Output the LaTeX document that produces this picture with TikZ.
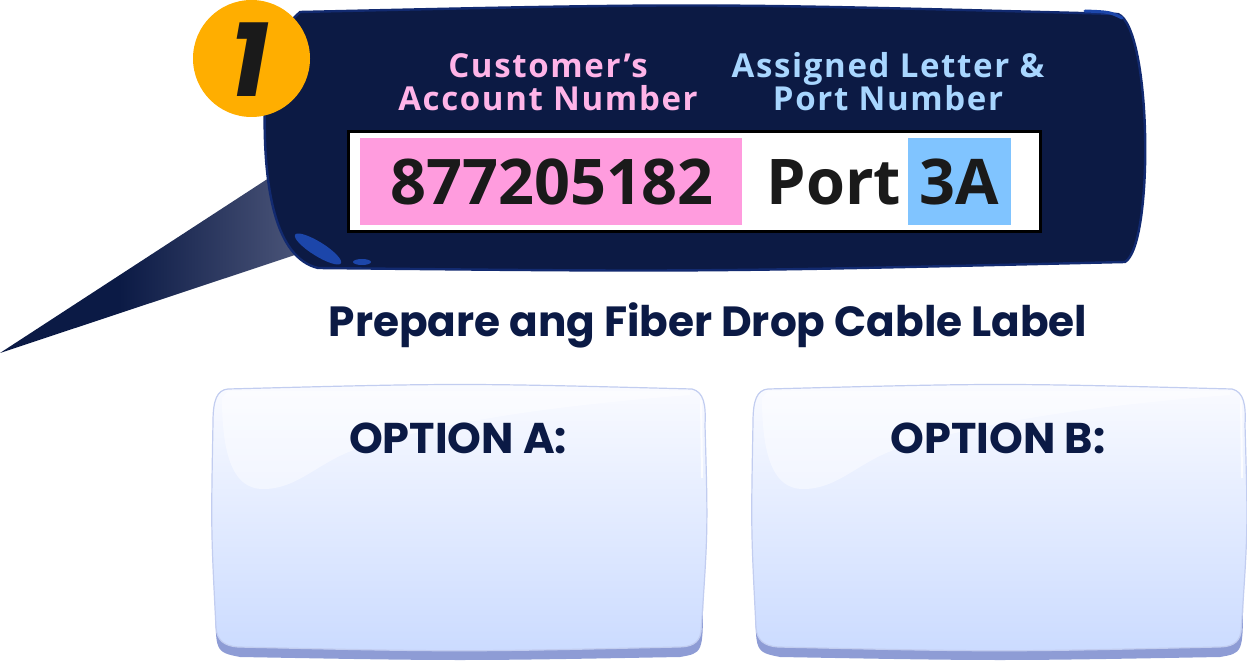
\documentclass[tikz,border=0pt]{standalone}
\usepackage{fontspec}
\setmainfont{Open Sans}
\newfontfamily\popfont{Poppins}
\newfontfamily\lblfont{Open Sans}[LetterSpace=5.0]
\definecolor{navy}{HTML}{0B1A45}
\definecolor{banner}{HTML}{0C1A44}
\definecolor{bannerrim}{HTML}{122A70}
\definecolor{hl}{HTML}{1C46AA}
\definecolor{beammid}{HTML}{4A5478}
\definecolor{beamlt}{HTML}{D0D3DC}
\definecolor{badge}{HTML}{FFAE00}
\definecolor{pinktxt}{HTML}{FFB4E8}
\definecolor{bluetxt}{HTML}{A8D6FF}
\definecolor{pinkfill}{HTML}{FF9CDE}
\definecolor{bluefill}{HTML}{80C4FF}
\definecolor{lblblack}{HTML}{1A1A1A}
\definecolor{lip}{HTML}{8E9CD5}
\definecolor{opttop}{HTML}{FAFBFF}
\definecolor{optbot}{HTML}{CBDBFF}
\definecolor{optedge}{HTML}{C2CDF0}
\pgfdeclarehorizontalshading{beam}{100bp}{color(0bp)=(navy); color(45bp)=(navy); color(75bp)=(beammid); color(100bp)=(beamlt)}
\tikzset{
  lbl/.style={inner sep=0pt, anchor=base, font=\lblfont\fontsize{16.5}{16.5}\selectfont\bfseries},
  num/.style={inner sep=0pt, anchor=base, text=lblblack, font=\fontsize{31.5}{31.5}\selectfont\bfseries},
  ttl/.style={inner sep=0pt, anchor=base, text=navy, font=\popfont\fontsize{21.1}{21.1}\selectfont\bfseries},
  opt/.style={inner sep=0pt, anchor=base, text=navy, font=\popfont\fontsize{21.5}{21.5}\selectfont\bfseries}
}
\newcommand\myoptbox[1]{%
\begin{scope}[shift={(#1,0)}]
  \fill[lip] (216,600) .. controls (215,652) .. (240,657) .. controls (460,661) .. (680,657) .. controls (703,653) .. (703,600) -- cycle;
  \shade[top color=opttop, bottom color=optbot, draw=optedge, line width=0.6pt]
    (228,389) .. controls (460,383) .. (692,389) .. controls (704,392) and (706,405) .. (705,425)
    .. controls (708,530) .. (701,632) .. controls (699,644) and (690,647) .. (678,647)
    .. controls (460,652) .. (238,647) .. controls (224,646) and (217,640) .. (216,628)
    .. controls (211,530) .. (213,422) .. controls (213,400) and (217,390) .. (228,389) -- cycle;
  \fill[white, opacity=0.45] (222,398) .. controls (222,470) and (240,490) .. (265,489)
    .. controls (300,488) and (320,460) .. (360,448) .. controls (420,430) and (500,410) .. (690,395) -- (690,391) -- (228,391) -- cycle;
  \draw[white, opacity=0.8, line width=1pt] (701,400) -- (702,478);
\end{scope}}
\begin{document}
\begin{tikzpicture}[x=0.5pt,y=-0.5pt]
\useasboundingbox (0,0) rectangle (1247,662);
% beam
\shade[shading=beam] (0,353) -- (272,176) -- (298,254) -- cycle;
% banner
\path[fill=banner, draw=bannerrim, line width=1.2pt]
  (300,12) .. controls (700,3) .. (1118,14) .. controls (1152,28) and (1154,245) .. (1125,262)
  .. controls (700,272) .. (318,268) .. controls (276,258) and (262,190) .. (265,95)
  .. controls (266,45) .. (300,12) -- cycle;
\fill[hl, rotate around={-32:(318,249)}] (318,249) ellipse [x radius=27, y radius=7];
\fill[hl] (362,262) ellipse [x radius=9, y radius=3];
\draw[hl, line width=1.5pt, line cap=round] (1085,11) .. controls (1110,12) .. (1122,18);
% badge
\node[circle, fill=badge, minimum size=58.5pt, inner sep=0pt] (badge) at (251.5,58.5) {};
\node[inner sep=0pt, text=lblblack, font=\popfont\fontsize{52}{52}\selectfont\bfseries\itshape] (one) at (249,60) {1};
% labels
\node[lbl, text=pinktxt] (c1) at (548,78) {Customer’s};
\node[lbl, text=pinktxt] (c2) at (548,111) {Account Number};
\node[lbl, text=bluetxt] (a1) at (888,78) {Assigned Letter \&};
\node[lbl, text=bluetxt] (a2) at (888,111) {Port Number};
% label box
\draw[fill=white, draw=black, line width=1.5pt] (348.5,131.5) rectangle (1040.5,231.5);
\fill[pinkfill] (360,138) rectangle (742,225);
\fill[bluefill] (908,138) rectangle (1011,225);
\node[num] (n) at (552,205) {877205182};
\node[num] (p) at (834,205) {Port};
\node[num] (pa) at (959,205) {3A};
% title
\node[ttl] (t) at (708,337) {Prepare ang Fiber Drop Cable Label};
% option boxes
\myoptbox{0}
\myoptbox{540}
\node[opt] (oa) at (458,453) {OPTION A:};
\node[opt] (ob) at (998,453) {OPTION B:};
\end{tikzpicture}
\end{document}
